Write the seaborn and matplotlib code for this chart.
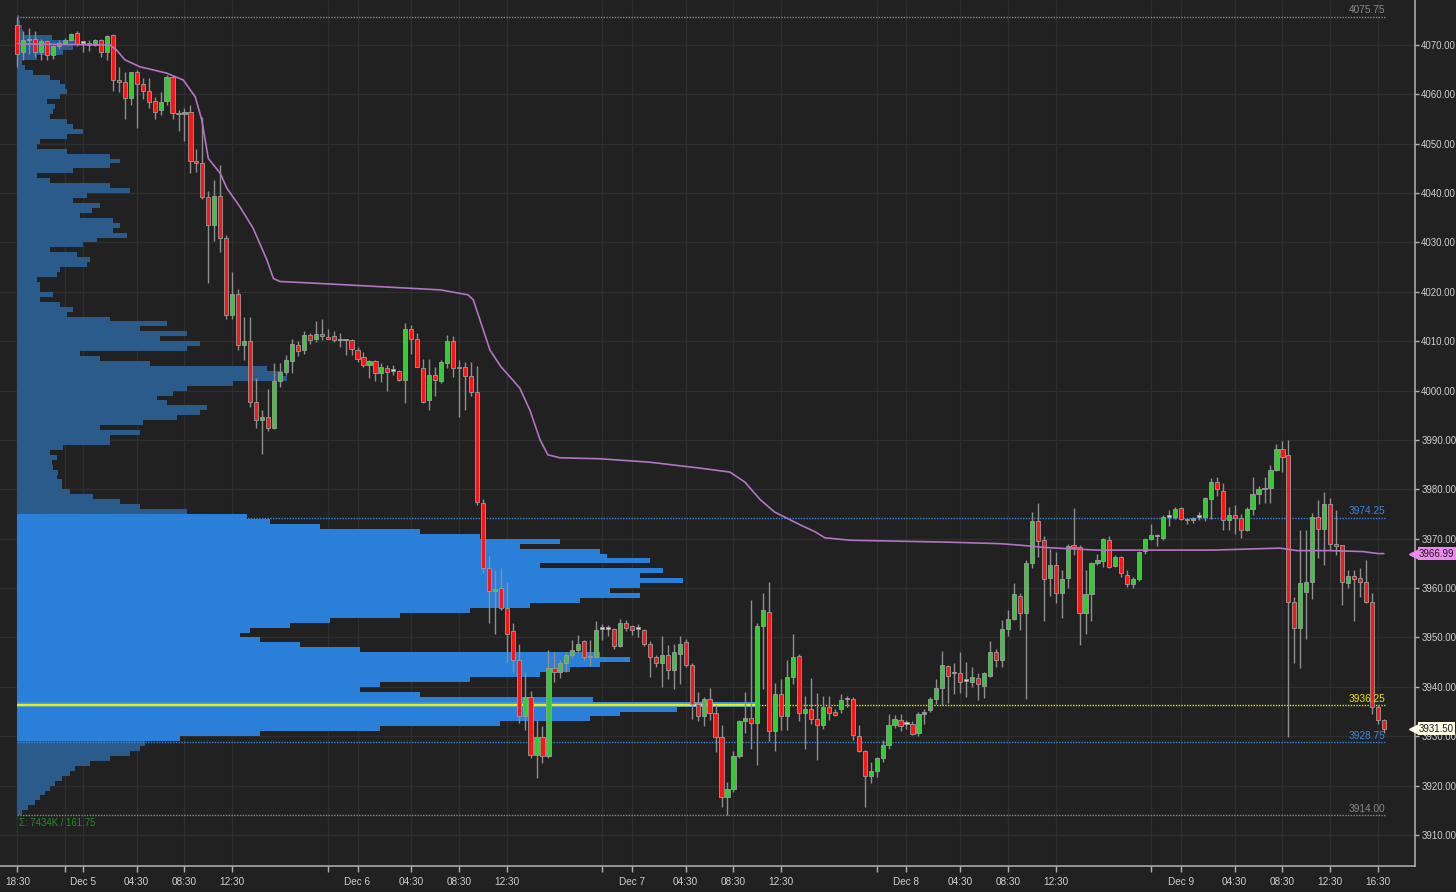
import numpy as np
import matplotlib
matplotlib.use("Agg")
import matplotlib.pyplot as plt
import matplotlib.transforms as mtransforms
import seaborn as sns

# ------------------------------------------------------------
# DATA: 30-minute bars, Dec 4 18:30 -> Dec 9 17:00 (bar index on x)
# ------------------------------------------------------------
opens = [4074.0, 4068.5, 4071.0, 4071.25, 4068.5, 4070.75, 4068.0, 4069.75, 4070.5, 4071.0,
         4072.5, 4070.5, 4070.5, 4070.0, 4071.0, 4068.5, 4072.0, 4063.0, 4062.5, 4059.25,
         4064.5, 4062.0, 4060.75, 4058.75, 4056.75, 4058.75, 4063.5, 4056.25, 4056.0, 4056.5,
         4046.5, 4046.0, 4039.25, 4033.5, 4039.5, 4031.0, 4015.25, 4019.5, 4009.25, 4010.0,
         3997.75, 3994.0, 3994.75, 3992.5, 4002.0, 4003.75, 4006.0, 4009.25, 4008.25, 4011.25,
         4010.5, 4011.5, 4010.75, 4011.0, 4010.25, 4010.25, 4010.25, 4008.25, 4006.75, 4005.25,
         4006.0, 4003.5, 4004.5, 4004.0, 4004.0, 4002.25, 4012.5, 4010.5, 4004.5, 3998.0,
         4003.25, 4002.0, 4005.5, 4010.0, 4004.75, 4004.75, 4003.0, 3999.75, 3977.25, 3964.0,
         3959.5, 3960.0, 3956.0, 3951.25, 3945.5, 3934.0, 3938.0, 3926.25, 3929.75, 3926.0,
         3943.75, 3943.0, 3944.75, 3946.5, 3947.5, 3949.25, 3946.25, 3946.0, 3951.75, 3951.75,
         3951.75, 3948.25, 3953.0, 3952.25, 3951.75, 3951.5, 3948.75, 3946.0, 3944.75, 3946.5,
         3943.5, 3946.75, 3949.0, 3944.5, 3936.5, 3934.0, 3937.5, 3934.75, 3929.75, 3917.75,
         3919.25, 3926.0, 3933.0, 3933.75, 3932.75, 3952.25, 3955.25, 3931.0, 3938.5, 3934.0,
         3942.0, 3946.25, 3934.75, 3935.5, 3933.5, 3932.25, 3936.0, 3935.0, 3935.5, 3937.5,
         3937.5, 3930.0, 3927.0, 3922.0, 3923.0, 3925.5, 3928.25, 3932.25, 3933.25, 3932.5,
         3932.5, 3930.75, 3934.5, 3935.25, 3937.5, 3939.75, 3944.25, 3942.75, 3942.75, 3941.25,
         3941.0, 3941.75, 3940.25, 3942.25, 3947.0, 3945.5, 3951.75, 3953.75, 3958.5, 3955.0,
         3965.0, 3973.5, 3969.75, 3962.0, 3964.75, 3959.0, 3962.0, 3968.75, 3968.25, 3955.0,
         3958.75, 3965.0, 3965.5, 3969.75, 3964.5, 3966.25, 3962.75, 3960.75, 3961.75, 3967.5,
         3970.0, 3970.5, 3970.25, 3974.5, 3974.5, 3976.25, 3974.0, 3973.75, 3974.5, 3974.5,
         3978.0, 3981.5, 3979.75, 3973.75, 3974.75, 3974.25, 3971.75, 3976.0, 3979.0, 3980.0,
         3980.25, 3984.0, 3988.25, 3987.0, 3957.25, 3952.0, 3959.25, 3961.25, 3974.5, 3972.0,
         3977.0, 3969.0, 3968.75, 3961.0, 3962.5, 3962.0, 3961.25, 3957.25, 3936.0, 3933.25]
highs = [4075.75, 4072.75, 4073.5, 4072.75, 4071.25, 4071.0, 4070.0, 4071.0, 4071.5, 4072.5,
         4072.75, 4070.75, 4071.0, 4071.25, 4071.25, 4072.0, 4072.25, 4065.5, 4064.5, 4064.5,
         4065.0, 4063.25, 4063.25, 4059.5, 4060.5, 4064.0, 4064.0, 4056.75, 4057.25, 4057.75,
         4049.0, 4055.5, 4040.5, 4042.75, 4045.75, 4031.5, 4024.0, 4020.5, 4015.0, 4015.0,
         4002.5, 3996.0, 4000.25, 4005.5, 4005.5, 4007.25, 4010.5, 4010.0, 4012.0, 4011.75,
         4014.0, 4014.5, 4012.5, 4012.0, 4011.75, 4010.5, 4010.5, 4008.75, 4007.75, 4006.25,
         4006.25, 4005.5, 4005.25, 4005.25, 4004.25, 4013.75, 4013.25, 4011.75, 4006.5, 4006.5,
         4004.75, 4006.25, 4011.25, 4011.0, 4006.25, 4005.75, 4005.75, 4005.0, 3978.0, 3966.5,
         3963.75, 3964.0, 3961.25, 3953.0, 3948.75, 3943.0, 3939.25, 3933.25, 3932.0, 3947.5,
         3947.0, 3945.5, 3947.0, 3949.5, 3950.5, 3949.5, 3949.5, 3953.25, 3952.75, 3952.5,
         3952.0, 3953.75, 3953.5, 3952.5, 3952.75, 3951.75, 3949.25, 3946.5, 3950.25, 3948.5,
         3948.75, 3950.25, 3949.75, 3944.75, 3939.0, 3938.0, 3939.75, 3936.25, 3932.25, 3920.75,
         3927.0, 3933.25, 3939.0, 3957.5, 3953.0, 3959.0, 3961.25, 3940.75, 3941.5, 3945.5,
         3950.75, 3946.75, 3938.25, 3941.75, 3938.75, 3938.25, 3938.25, 3935.5, 3938.5, 3938.25,
         3938.0, 3932.25, 3927.25, 3924.75, 3925.75, 3929.25, 3934.5, 3934.25, 3934.5, 3933.25,
         3933.0, 3935.0, 3935.5, 3938.0, 3941.5, 3947.25, 3944.5, 3944.75, 3947.0, 3945.0,
         3944.0, 3942.75, 3943.0, 3949.25, 3947.75, 3953.5, 3955.5, 3961.0, 3959.0, 3965.75,
         3975.5, 3977.25, 3970.5, 3968.0, 3967.25, 3963.75, 3969.0, 3976.25, 3968.75, 3963.75,
         3965.25, 3967.0, 3970.25, 3970.5, 3966.75, 3966.5, 3963.75, 3962.25, 3967.5, 3970.25,
         3973.0, 3971.0, 3974.75, 3975.75, 3976.5, 3976.5, 3974.25, 3974.5, 3975.5, 3978.5,
         3982.25, 3982.5, 3981.25, 3976.5, 3976.75, 3975.0, 3976.5, 3982.5, 3980.75, 3982.5,
         3985.0, 3989.25, 3989.75, 3990.0, 3958.25, 3971.75, 3971.75, 3975.25, 3977.75, 3979.5,
         3978.25, 3975.75, 3968.75, 3963.75, 3963.75, 3964.0, 3965.75, 3959.0, 3936.25, 3933.5]
lows = [4065.5, 4067.0, 4068.25, 4067.5, 4067.0, 4067.0, 4067.25, 4069.25, 4070.25, 4070.75,
        4069.75, 4068.5, 4068.75, 4069.75, 4067.5, 4067.0, 4060.75, 4060.5, 4055.0, 4057.75,
        4053.25, 4059.0, 4057.25, 4055.0, 4055.75, 4057.75, 4055.0, 4052.5, 4050.5, 4044.0,
        4044.25, 4038.75, 4021.75, 4030.25, 4028.0, 4014.5, 4014.5, 4008.25, 4006.25, 3996.75,
        3992.5, 3987.25, 3991.75, 3992.25, 4000.75, 4003.25, 4003.5, 4007.0, 4007.5, 4009.5,
        4009.75, 4010.25, 4010.5, 4009.75, 4008.75, 4007.25, 4007.25, 4005.75, 4004.75, 4002.5,
        4002.0, 4001.75, 4000.0, 4003.25, 4002.0, 3997.5, 4007.5, 4004.75, 3997.5, 3996.0,
        3999.0, 4001.5, 4004.5, 4002.75, 3994.75, 3996.0, 3999.0, 3976.75, 3963.0, 3953.0,
        3950.75, 3955.5, 3945.0, 3943.0, 3932.75, 3931.25, 3925.5, 3921.5, 3924.5, 3925.5,
        3941.0, 3941.75, 3943.0, 3945.75, 3947.0, 3945.5, 3944.25, 3946.0, 3949.5, 3950.25,
        3947.75, 3948.0, 3951.25, 3950.5, 3950.0, 3948.25, 3942.0, 3944.0, 3940.0, 3941.5,
        3939.5, 3940.5, 3944.0, 3933.5, 3933.0, 3932.0, 3933.25, 3926.75, 3915.75, 3914.0,
        3918.75, 3925.5, 3930.75, 3927.5, 3924.25, 3939.5, 3929.0, 3927.0, 3931.25, 3931.25,
        3940.5, 3933.0, 3927.5, 3932.5, 3925.25, 3931.5, 3933.25, 3934.0, 3934.75, 3936.0,
        3929.25, 3926.75, 3915.75, 3920.5, 3921.75, 3924.75, 3927.5, 3931.75, 3931.0, 3931.5,
        3930.25, 3930.0, 3932.5, 3935.0, 3936.5, 3936.25, 3936.75, 3938.5, 3938.75, 3938.0,
        3940.0, 3937.25, 3937.75, 3942.0, 3944.0, 3944.0, 3950.25, 3953.5, 3951.5, 3937.5,
        3964.0, 3966.25, 3953.25, 3958.5, 3957.0, 3954.0, 3960.0, 3966.75, 3948.5, 3950.75,
        3953.25, 3964.75, 3964.25, 3964.0, 3964.25, 3962.25, 3960.25, 3960.0, 3961.5, 3967.0,
        3969.75, 3968.5, 3969.75, 3972.5, 3974.0, 3973.75, 3973.0, 3973.25, 3973.75, 3973.5,
        3974.0, 3978.75, 3971.75, 3971.75, 3971.0, 3970.25, 3971.5, 3974.75, 3977.0, 3977.25,
        3977.25, 3983.75, 3983.5, 3929.75, 3944.75, 3943.75, 3949.75, 3957.75, 3966.0, 3964.75,
        3967.75, 3966.75, 3956.5, 3960.0, 3953.25, 3958.25, 3957.0, 3934.5, 3932.5, 3930.75]
closes = [4068.25, 4071.0, 4071.25, 4068.5, 4070.75, 4068.0, 4069.75, 4070.5, 4071.0, 4072.25,
          4070.25, 4070.5, 4070.0, 4071.0, 4068.5, 4071.75, 4063.0, 4062.5, 4059.25, 4064.5,
          4062.0, 4060.75, 4058.5, 4056.5, 4058.5, 4063.5, 4056.25, 4056.0, 4056.5, 4046.5,
          4046.0, 4039.25, 4033.5, 4039.5, 4031.0, 4015.25, 4019.5, 4009.25, 4010.0, 3997.75,
          3994.0, 3994.75, 3992.5, 4002.0, 4003.75, 4006.25, 4009.5, 4008.0, 4011.25, 4010.25,
          4011.5, 4011.0, 4010.5, 4010.25, 4010.25, 4010.25, 4008.5, 4006.5, 4005.25, 4006.0,
          4003.5, 4004.75, 4003.75, 4004.0, 4002.25, 4012.5, 4010.5, 4004.75, 3997.75, 4003.25,
          4002.25, 4005.75, 4010.0, 4004.5, 4004.5, 4003.0, 3999.75, 3977.5, 3964.0, 3959.5,
          3959.75, 3956.0, 3950.75, 3945.5, 3934.0, 3938.0, 3926.25, 3929.75, 3926.0, 3943.75,
          3943.0, 3944.75, 3946.5, 3947.5, 3948.75, 3946.0, 3946.0, 3951.5, 3951.75, 3951.75,
          3948.25, 3953.0, 3952.0, 3951.5, 3951.75, 3948.75, 3946.0, 3944.75, 3946.5, 3943.5,
          3947.0, 3948.75, 3944.5, 3936.5, 3934.0, 3937.5, 3934.75, 3929.75, 3917.75, 3919.25,
          3926.0, 3933.0, 3933.75, 3932.75, 3952.25, 3955.5, 3931.0, 3938.5, 3934.0, 3942.0,
          3946.0, 3934.75, 3935.5, 3933.5, 3932.25, 3936.0, 3934.75, 3934.25, 3937.25, 3937.5,
          3930.25, 3927.0, 3922.0, 3923.0, 3925.5, 3928.25, 3932.25, 3933.5, 3932.0, 3932.5,
          3930.5, 3934.5, 3935.0, 3937.5, 3939.75, 3944.5, 3942.25, 3942.75, 3941.0, 3941.25,
          3942.0, 3940.5, 3942.75, 3947.0, 3945.5, 3951.75, 3953.75, 3958.75, 3955.0, 3965.0,
          3973.5, 3969.5, 3961.75, 3964.75, 3959.0, 3961.75, 3968.5, 3968.25, 3955.0, 3958.75,
          3965.0, 3965.75, 3970.0, 3964.25, 3966.25, 3963.0, 3960.75, 3961.75, 3967.25, 3970.0,
          3970.75, 3970.5, 3974.5, 3974.5, 3976.0, 3974.0, 3973.75, 3974.25, 3974.5, 3978.25,
          3981.5, 3980.0, 3973.75, 3974.75, 3974.25, 3971.75, 3976.0, 3979.0, 3980.0, 3980.25,
          3984.0, 3988.25, 3986.5, 3957.25, 3952.0, 3961.0, 3961.25, 3974.5, 3972.0, 3977.0,
          3969.0, 3968.5, 3961.25, 3962.5, 3961.75, 3961.25, 3957.25, 3936.0, 3933.25, 3931.5]

# VWAP at these bar positions
vwap_bar = [0, 1, 15.5, 16.6, 18, 20.5, 25, 27.8, 29.8, 30.9, 32, 34, 35.1, 37.3, 39.5,
            41.8, 42.9, 44, 50.7, 70.9, 75.5, 76.4, 79.2, 81.0, 84.2, 85.9, 87.6, 88.9,
            90.9, 97.6, 106, 114.4, 119.4, 121.9, 124.5, 126.9, 131.2, 133.7, 135.3, 139.5,
            147.9, 156.3, 164.7, 168, 172.5, 180.9, 200.4, 211.6, 214.4, 220, 225.5, 228, 229]
vwap_val = [4070.3, 4070.2, 4070.0, 4069.0, 4067.0, 4065.6, 4064.3, 4062.9, 4059.5, 4054.8,
            4047.0, 4044.0, 4041.0, 4037.2, 4032.9, 4026.5, 4022.7, 4022.1, 4021.7, 4020.4,
            4019.4, 4018.4, 4008.2, 4004.9, 4000.5, 3996.0, 3990.0, 3987.0, 3986.4, 3986.2,
            3985.5, 3984.3, 3983.5, 3981.5, 3977.9, 3975.4, 3972.8, 3971.4, 3970.2, 3969.7,
            3969.5, 3969.3, 3969.0, 3968.7, 3968.2, 3967.7, 3967.7, 3968.1, 3967.6, 3967.6,
            3967.4, 3967.0, 3966.99]

# volume profile, 1-point price bins from 3914 up to 4075 (volume per tick, K)
prof_low = list(range(3914, 4076))
prof_vol = [0.5, 1.1, 1.8, 2.3, 2.8, 3.3, 3.8, 4.5, 5.3, 5.8,
            7.3, 9.3, 11.3, 12.3, 12.8, 16.3, 24.3, 36.3, 48.3, 57.3,
            60.3, 66.0, 74.0, 57.6, 40.3, 34.3, 36.3, 45.3, 52.3, 55.3,
            58.3, 61.3, 58.3, 34.3, 28.3, 24.3, 22.3, 23.3, 27.3, 31.3,
            38.3, 45.3, 51.3, 56.3, 62.3, 59.3, 62.3, 66.6, 62.3, 64.6,
            52.3, 63.3, 59.0, 58.3, 50.3, 54.3, 46.3, 40.3, 30.3, 25.3,
            23.0, 17.0, 12.3, 10.3, 7.6, 5.3, 4.5, 4.5, 4.0, 4.1,
            3.6, 3.5, 4.0, 3.3, 4.6, 9.3, 9.3, 12.3, 8.3, 12.6,
            16.0, 18.3, 19.0, 15.0, 14.0, 15.6, 17.0, 21.6, 27.0, 26.6,
            25.0, 13.3, 8.3, 6.3, 17.0, 18.3, 14.3, 17.0, 12.3, 15.0,
            9.3, 5.0, 5.6, 4.3, 2.3, 3.6, 2.3, 2.3, 2.0, 4.0,
            4.3, 7.0, 7.3, 6.0, 3.3, 6.6, 8.0, 11.0, 9.6, 10.3,
            9.6, 6.3, 7.5, 8.3, 5.6, 7.0, 11.3, 9.3, 3.3, 2.0,
            5.6, 9.3, 10.3, 9.3, 5.0, 2.0, 2.3, 5.0, 6.6, 5.6,
            5.0, 3.3, 3.6, 3.8, 3.0, 4.3, 5.0, 4.8, 4.3, 3.3,
            1.6, 0.8, 0.5, 2.0, 4.6, 5.6, 6.0, 3.5, 0.6, 0.5,
            0.3, 0.2]

session_high = 4075.75
session_low = 3914.00
vah = 3974.25
val = 3928.75
poc = 3936.25
last_price = 3931.50
vwap_last = 3966.99

xtick_pos = [0, 11, 20, 28, 36, 57, 66, 74, 82, 103, 112, 120, 128,
             149, 158, 166, 174, 195, 204, 212, 220, 228]
xtick_lab = ["18:30", "Dec 5", "04:30", "08:30", "12:30", "Dec 6", "04:30", "08:30", "12:30",
             "Dec 7", "04:30", "08:30", "12:30", "Dec 8", "04:30", "08:30", "12:30",
             "Dec 9", "04:30", "08:30", "12:30", "16:30"]
xminor_pos = [8, 52, 98, 144, 190]
ytick_vals = list(range(3910, 4071, 10))

# ------------------------------------------------------------
# STYLE
# ------------------------------------------------------------
BG = "#212121"
GRID = "#2e2e2e"
TXT = "#cfcfcf"
sns.set_style("dark", {"axes.facecolor": BG, "figure.facecolor": BG,
                       "axes.edgecolor": "#a0a0a0", "grid.color": GRID})
plt.rcParams['font.family'] = ['Liberation Sans', 'DejaVu Sans']

fig = plt.figure(figsize=(14.56, 8.92), dpi=100)
rect = [0, 26 / 892, 1415 / 1456, 866 / 892]
ax_prof = fig.add_axes(rect)
ax = fig.add_axes(rect, sharey=ax_prof)
ax.set_zorder(ax_prof.get_zorder() + 1)
ax.patch.set_visible(False)

ylo, yhi = 3903.72, 4079.11
ax.set_xlim(-2.916, 234.22)
ax.set_ylim(ylo, yhi)

# ------------------------------------------------------------
# GRID + VOLUME PROFILE (background axes)
# ------------------------------------------------------------
vtrans = mtransforms.blended_transform_factory(ax.transData, ax_prof.transAxes)
ax_prof.vlines(xtick_pos + xminor_pos, 0, 1, transform=vtrans, color=GRID,
               linewidth=1, zorder=1)
for yv in ytick_vals:
    ax_prof.axhline(yv, color=GRID, linewidth=1, zorder=1)

prof_low = np.array(prof_low)
prof_vol = np.array(prof_vol)
in_va = (prof_low >= 3929) & (prof_low < 3975)
pcolors = np.where(in_va, "#2a80d8", "#2a5b8a").astype(object)
pcolors[prof_low == int(poc)] = "#3a94ee"
ax_prof.barh(prof_low + 0.5, prof_vol, height=1.0, left=0, color=list(pcolors),
             linewidth=0, zorder=2)
ax_prof.hlines(poc, 0, prof_vol[prof_low == int(poc)][0], color="#f0f000",
               linewidth=1.6, zorder=3)
ax_prof.set_xlim(-1.7, 139.8)
ax_prof.set_ylim(ylo, yhi)
ax_prof.set_facecolor(BG)
for s in ax_prof.spines.values():
    s.set_visible(False)
ax_prof.set_xticks([])
ax_prof.tick_params(left=False, labelleft=False)

# ------------------------------------------------------------
# AXES, LEVEL LINES
# ------------------------------------------------------------
ax.set_xticks(xtick_pos)
ax.set_xticks(xminor_pos, minor=True)
ax.set_xticklabels(xtick_lab)
ax.set_yticks(ytick_vals)
ax.set_yticklabels([f"{v:.2f}" for v in ytick_vals])
ax.yaxis.tick_right()
ax.grid(False)
ax.tick_params(axis="x", which="both", length=4, width=1, color="#b0b0b0",
               labelcolor=TXT, labelsize=7.2, pad=4, bottom=True)
ax.tick_params(axis="y", length=3, width=1, color="#b0b0b0", labelcolor=TXT,
               labelsize=7.0, pad=1.5, right=True, left=False)
for s in ["top", "left"]:
    ax.spines[s].set_visible(False)
for s in ["right", "bottom"]:
    ax.spines[s].set_color("#a8a8a8")
    ax.spines[s].set_linewidth(1.2)

x_end = 229.25
levels = [(session_high, "#8a8a8a"), (vah, "#3a86dc"), (poc, "#e8e800"),
          (val, "#3a86dc"), (session_low, "#8a8a8a")]
for lv, col in levels:
    ax.hlines(lv, -0.1, x_end, color=col, linewidth=1.0, linestyles=(0, (1, 1)), zorder=2)
    ax.annotate(f"{lv:.2f}", xy=(x_end, lv), xytext=(0, 1), textcoords="offset points",
                ha="right", va="bottom", color=col, fontsize=7.3, zorder=6)

# ------------------------------------------------------------
# CANDLES
# ------------------------------------------------------------
idx = np.arange(len(opens))
o = np.array(opens)
h = np.array(highs)
l = np.array(lows)
c = np.array(closes)
ccol = np.where(c > o, "#33cc33", np.where(c < o, "#ff1414", "#d8d8d8"))
ax.vlines(idx, l, h, color="#8e8e8e", linewidth=1.0, zorder=3)
body = np.maximum(np.abs(c - o), 0.3)
ax.bar(idx, body, bottom=np.minimum(o, c), width=0.7, color=ccol,
       edgecolor="#9c9c9c", linewidth=0.6, zorder=4)

# VWAP
sns.lineplot(x=vwap_bar, y=vwap_val, ax=ax, color="#b474c4", linewidth=1.2,
             sort=False, estimator=None, zorder=5)

# ------------------------------------------------------------
# ANNOTATIONS
# ------------------------------------------------------------
ax.text(19 / 1415, 0.0497, "\u03a3: 7434K / 161.75", transform=ax.transAxes,
        color="#1f8f1f", fontsize=6.9, ha="left", va="center", zorder=6)

blend = mtransforms.blended_transform_factory(ax.transAxes, ax.transData)
for val_, fc in [(vwap_last, "#ee8aee"), (last_price, "#fffde6")]:
    ax.plot([1.0 - 1.0 / 1415], [val_], marker="<", markersize=7, color=fc,
            transform=blend, clip_on=False, zorder=9)
    ax.text(1.0 + 4 / 1415, val_, f"{val_:.2f}", transform=blend, ha="left", va="center",
            fontsize=7.0, color="#1a1a1a", clip_on=False, zorder=10,
            bbox=dict(boxstyle="square,pad=0.15", fc=fc, ec="none"))

fig.savefig("out.png", dpi=100, facecolor=BG)
